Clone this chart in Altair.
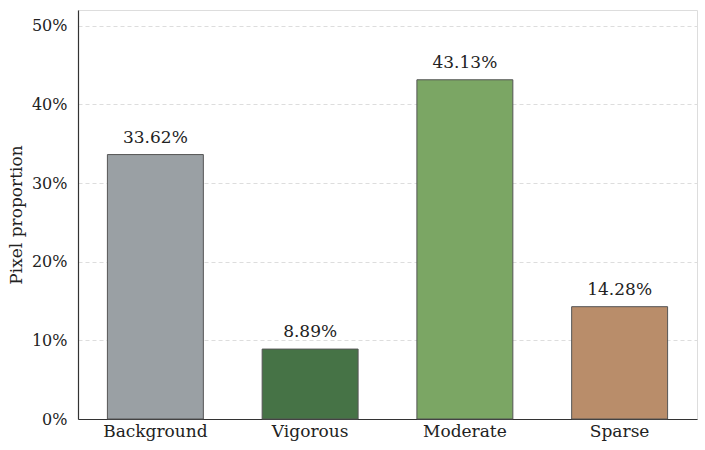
import altair as alt
import pandas as pd

categories = ["Background", "Vigorous", "Moderate", "Sparse"]
values = [33.62, 8.89, 43.13, 14.28]
colors = ["#9aa0a4", "#467346", "#7ba664", "#b98d6a"]

df = pd.DataFrame({"cat": categories, "val": values, "label": [f"{v:.2f}%" for v in values]})

FONT = "DejaVu Serif"

x = alt.X("cat:N", sort=categories, title=None,
          scale=alt.Scale(paddingInner=0.38, paddingOuter=0.19),
          axis=alt.Axis(labelAngle=0, labelFontSize=17, labelFont=FONT, labelColor="#222",
                        ticks=False, labelPadding=4, domainColor="#333", domainWidth=1.2))
y = alt.Y("val:Q", title="Pixel proportion",
          scale=alt.Scale(domain=[0, 52], nice=False),
          axis=alt.Axis(values=[0, 10, 20, 30, 40, 50], labelExpr="datum.value + '%'",
                        labelFontSize=16, labelFont=FONT, labelColor="#222", ticks=False,
                        labelPadding=11, titleFont=FONT, titleFontSize=17, titleFontWeight="normal",
                        titleColor="#222", titlePadding=6,
                        grid=True, gridDash=[4, 3], gridColor="#dddddd", gridWidth=1,
                        domainColor="#333", domainWidth=1.2))

bars = alt.Chart(df).mark_bar(stroke="#555555", strokeWidth=1).encode(
    x=x, y=y,
    color=alt.Color("cat:N", scale=alt.Scale(domain=categories, range=colors), legend=None),
)
text = alt.Chart(df).mark_text(dy=-8, baseline="bottom", font=FONT, fontSize=17, color="#222").encode(
    x=alt.X("cat:N", sort=categories), y="val:Q", text="label:N"
)

chart = (bars + text).properties(
    width=619, height=409,
    autosize=alt.AutoSizeParams(type="none"),
    padding={"left": 78, "top": 10, "right": 8, "bottom": 31},
).configure_view(stroke=None).configure(background="white")

chart.save("out.html", embed_options={"renderer": "svg", "actions": False})
